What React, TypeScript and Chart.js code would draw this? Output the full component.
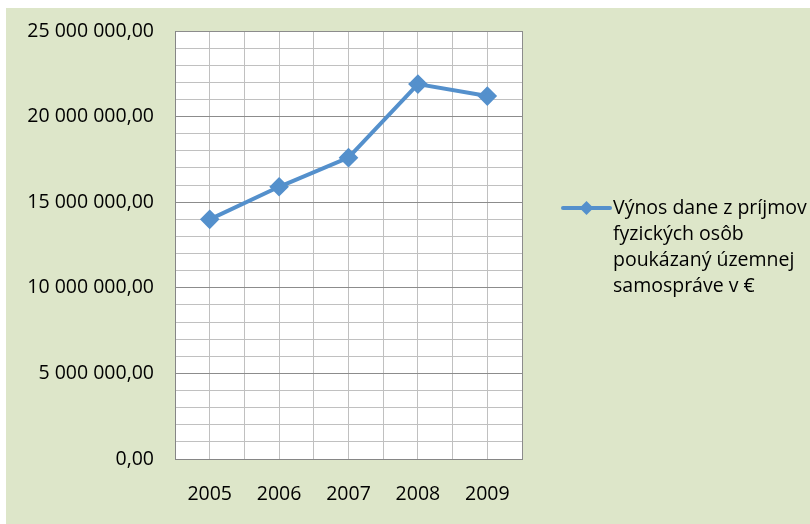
import React, { useEffect, useRef } from "react";
import { Chart, registerables } from "chart.js";

Chart.register(...registerables);

const years = ["2005", "2006", "2007", "2008", "2009"];
const revenue = [14000000, 15900000, 17600000, 21900000, 21200000];
const seriesLabel = ["Výnos dane z príjmov", "fyzických osôb", "poukázaný územnej", "samospráve v €"];
const yMax = 25000000;
const yMinorStep = 1000000;
const yMajorStep = 5000000;

const LINE_COLOR = "#5490cc";
const FONT = '"Open Sans", "DejaVu Sans", sans-serif';

function fmt(v: number): string {
  const s = Math.round(v).toString().replace(/\B(?=(\d{3})+(?!\d))/g, " ");
  return s + ",00";
}

const plotBg = {
  id: "plotBg",
  beforeDraw(chart: any) {
    const { ctx, chartArea } = chart;
    ctx.save();
    ctx.fillStyle = "#ffffff";
    ctx.fillRect(chartArea.left, chartArea.top, chartArea.right - chartArea.left, chartArea.bottom - chartArea.top);
    ctx.restore();
  },
};

const sideLegend = {
  id: "sideLegend",
  afterDraw(chart: any) {
    const { ctx, chartArea } = chart;
    const x0 = chartArea.right + 41;
    const y0 = 200;
    ctx.save();
    ctx.strokeStyle = LINE_COLOR;
    ctx.lineWidth = 4;
    ctx.lineCap = "round";
    ctx.beginPath();
    ctx.moveTo(x0, y0);
    ctx.lineTo(x0 + 47, y0);
    ctx.stroke();
    const cx = x0 + 23.5;
    const r = 7;
    ctx.fillStyle = LINE_COLOR;
    ctx.beginPath();
    ctx.moveTo(cx, y0 - r);
    ctx.lineTo(cx + r, y0);
    ctx.lineTo(cx, y0 + r);
    ctx.lineTo(cx - r, y0);
    ctx.closePath();
    ctx.fill();
    ctx.fillStyle = "#000000";
    ctx.font = "19.5px " + FONT;
    ctx.textAlign = "left";
    ctx.textBaseline = "alphabetic";
    seriesLabel.forEach((line, i) => {
      ctx.fillText(line, x0 + 50, 206 + i * 26);
    });
    ctx.restore();
  },
};

export default function App() {
  const ref = useRef<HTMLCanvasElement | null>(null);

  useEffect(() => {
    if (!ref.current) return;
    const chart = new Chart(ref.current, {
      type: "line",
      data: {
        datasets: [
          {
            label: seriesLabel.join(" "),
            data: revenue.map((v, i) => ({ x: i, y: v })),
            borderColor: LINE_COLOR,
            backgroundColor: LINE_COLOR,
            borderWidth: 4,
            pointStyle: "rectRot",
            pointRadius: 7,
            pointHoverRadius: 7,
            tension: 0,
          },
        ],
      },
      options: {
        animation: false,
        responsive: false,
        devicePixelRatio: 1,
        layout: { padding: { left: 0, top: 23, right: 288, bottom: 0 } },
        plugins: {
          legend: { display: false },
          tooltip: { enabled: false },
        },
        scales: {
          x: {
            type: "linear",
            min: -0.5,
            max: years.length - 0.5,
            afterFit: (scale: any) => {
              scale.height = 65;
              scale.paddingLeft = 0;
              scale.paddingRight = 0;
            },
            ticks: {
              stepSize: 0.5,
              autoSkip: false,
              maxRotation: 0,
              padding: 24,
              color: "#000000",
              font: { family: FONT, size: 19.5 },
              callback: (v: any) => {
                const n = Number(v);
                return Number.isInteger(n) && years[n] ? years[n] : "";
              },
            },
            grid: {
              drawTicks: false,
              lineWidth: 1,
              color: (c: any) => {
                const v = c.tick ? c.tick.value : 0;
                return v === years.length - 0.5 || v === -0.5 ? "#8c8c8c" : "#c0c0c0";
              },
            },
            border: { display: true, color: "#868686", width: 1 },
          },
          y: {
            type: "linear",
            min: 0,
            max: yMax,
            afterFit: (scale: any) => {
              scale.width = 169;
              scale.paddingTop = 0;
              scale.paddingBottom = 0;
            },
            ticks: {
              stepSize: yMinorStep,
              autoSkip: false,
              padding: 21,
              color: "#000000",
              font: { family: FONT, size: 19.5 },
              callback: (v: any) => {
                const n = Number(v);
                return n % yMajorStep === 0 ? fmt(n) : "";
              },
            },
            grid: {
              drawTicks: false,
              lineWidth: 1,
              color: (c: any) => {
                const v = c.tick ? c.tick.value : 0;
                return v % yMajorStep === 0 ? "#8c8c8c" : "#c0c0c0";
              },
            },
            border: { display: true, color: "#868686", width: 1 },
          },
        },
      },
      plugins: [plotBg, sideLegend],
    } as any);
    return () => chart.destroy();
  }, []);

  return (
    <div
      style={{
        position: "absolute",
        left: 6,
        top: 8,
        width: 804,
        height: 516,
        background: "#dde6c9",
      }}
    >
      <canvas ref={ref} width={804} height={516} style={{ display: "block" }} />
    </div>
  );
}
